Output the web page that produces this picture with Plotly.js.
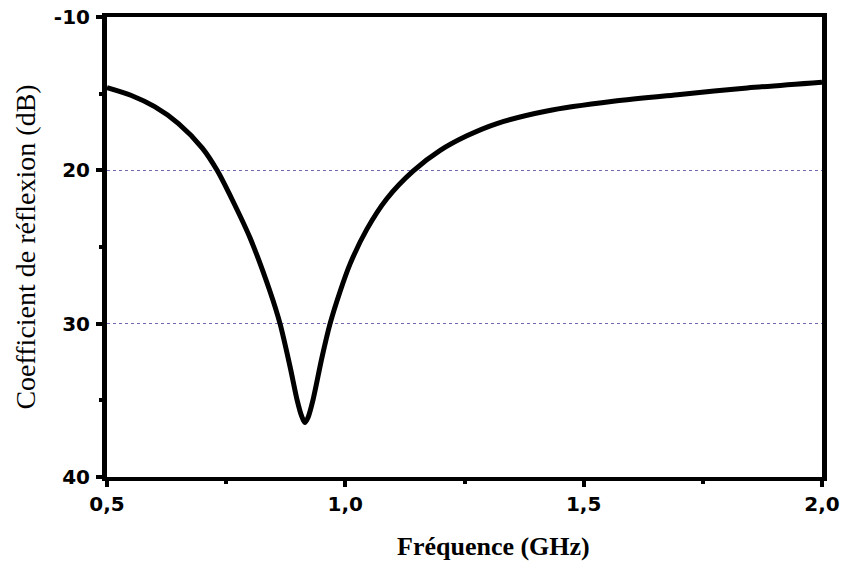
<!DOCTYPE html>
<html>
<head>
<meta charset="utf-8">
<script src="https://cdn.plot.ly/plotly-3.0.1.min.js"></script>
<style>
  html, body { margin: 0; padding: 0; background: #fff; }
  #chart { width: 843px; height: 563px; }
</style>
</head>
<body>
<div id="chart"></div>
<script>
// Reflection coefficient of the antenna versus frequency
const freqGHz = [0.500, 0.550, 0.600, 0.650, 0.700, 0.731, 0.764, 0.800, 0.842, 0.863,
                 0.884, 0.899, 0.908, 0.915, 0.922, 0.932, 0.951, 0.968, 0.989, 1.010,
                 1.045, 1.087, 1.142, 1.199, 1.255, 1.318, 1.423, 1.562, 1.702, 1.843,
                 2.000];
const reflexionDB = [-14.6, -15.1, -15.85, -16.95, -18.55, -20.0, -22.0, -24.4, -27.9, -30.0,
                     -32.8, -35.0, -36.0, -36.45, -36.1, -35.0, -32.2, -30.0, -27.9, -26.1,
                     -23.85, -21.85, -20.05, -18.7, -17.75, -16.95, -16.13, -15.5, -15.05, -14.63,
                     -14.25];

const xTickVals = [0.5, 1.0, 1.5, 2.0];
const xTickText = ['0,5', '1,0', '1,5', '2,0'];
const yTickVals = [-40, -30, -20, -10];
const yTickText = ['40', '30', '20', '-10'];

const trace = {
  x: freqGHz,
  y: reflexionDB,
  type: 'scatter',
  mode: 'lines',
  line: { color: '#000', width: 5, shape: 'spline', smoothing: 0.8 },
  hoverinfo: 'skip'
};

const tickFont = { family: 'DejaVu Sans, sans-serif', size: 20, color: '#000', weight: 'bold' };

const layout = {
  width: 843,
  height: 563,
  margin: { l: 107, r: 21, t: 17, b: 86 },
  paper_bgcolor: '#fff',
  plot_bgcolor: '#fff',
  showlegend: false,
  xaxis: {
    range: [0.5, 2.0],
    tickvals: xTickVals,
    ticktext: xTickText,
    ticks: 'outside',
    ticklen: 6,
    tickwidth: 4,
    tickcolor: '#000',
    minor: { tickvals: [0.75, 1.25, 1.75], ticks: 'outside', ticklen: 3, tickwidth: 4, tickcolor: '#000', showgrid: false },
    showline: true,
    linewidth: 4,
    linecolor: '#000',
    mirror: true,
    showgrid: false,
    zeroline: false,
    tickfont: tickFont
  },
  yaxis: {
    range: [-40, -10],
    tickvals: yTickVals,
    ticktext: yTickText,
    ticks: 'outside',
    ticklen: 6,
    tickwidth: 4,
    tickcolor: '#000',
    minor: { tickvals: [-35, -25, -15], ticks: 'outside', ticklen: 3, tickwidth: 4, tickcolor: '#000', showgrid: false },
    showline: true,
    linewidth: 5,
    linecolor: '#000',
    mirror: true,
    showgrid: true,
    gridcolor: '#7466b0',
    gridwidth: 1,
    griddash: 'dot',
    zeroline: false,
    ticklabelstandoff: 2,
    tickfont: tickFont,
    title: {
      text: 'Coefficient de réflexion (dB)',
      font: { family: 'Liberation Serif, Times New Roman, serif', size: 28, color: '#000' },
      standoff: 12
    }
  },
  // x-axis title sits a little right of the plot centre
  annotations: [{
    text: '<b>Fréquence (GHz)</b>',
    xref: 'paper', yref: 'paper',
    x: 0.54, y: -0.15,
    xanchor: 'center', yanchor: 'middle',
    showarrow: false,
    font: { family: 'Liberation Serif, Times New Roman, serif', size: 26, color: '#000' }
  }]
};

Plotly.newPlot('chart', [trace], layout, { staticPlot: true, displayModeBar: false });
</script>
</body>
</html>
